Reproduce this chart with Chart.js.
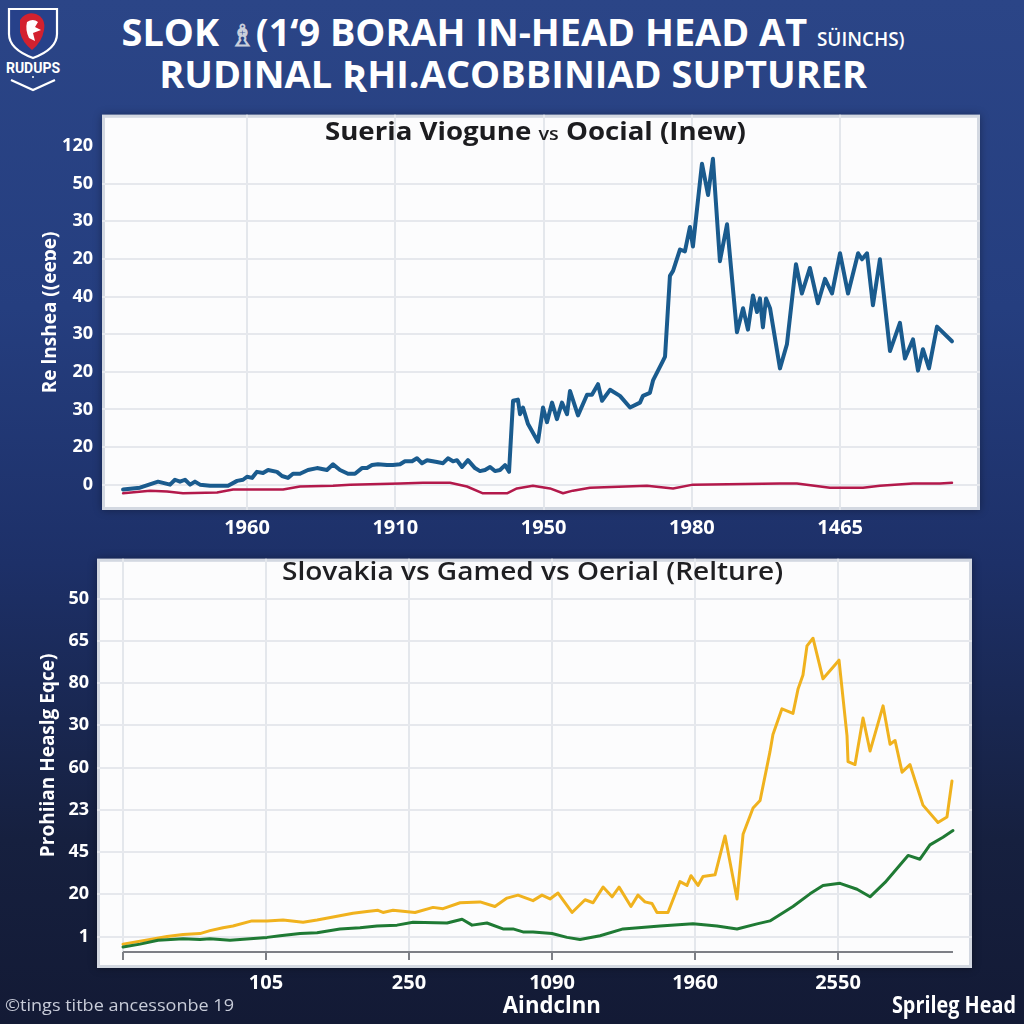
<!DOCTYPE html>
<html><head><meta charset="utf-8">
<script src="https://cdn.jsdelivr.net/npm/chart.js@4.4.1/dist/chart.umd.min.js"></script>
<style>
html,body{margin:0;padding:0;}
body{width:1024px;height:1024px;overflow:hidden;position:relative;
background:linear-gradient(180deg,#2b4587 0%,#253e7f 30%,#1d3068 55%,#16203f 82%,#131a35 100%);
font-family:"Open Sans","Noto Sans",sans-serif;}
.abs{position:absolute;}
.line{left:1px;width:1024px;text-align:center;white-space:nowrap;}
span.f{display:inline-block;transform-origin:center center;white-space:nowrap;}
#t1{top:8px;height:46px;line-height:46px;color:#fff;font-weight:700;font-size:38px;}
#t2{top:50px;height:46px;line-height:46px;color:#fff;font-weight:700;font-size:38px;}
#t1 .sm{font-size:19px;font-weight:600;}
#t1 .fig{color:#c9cfdc;font-size:30px;}
#ct1{left:23px;top:114px;color:#1c1c1f;font-weight:700;font-size:25px;line-height:32px;}
#ct1 .sm{font-size:18px;font-weight:600;}
#ct2{left:21px;top:554px;color:#1f1f22;font-weight:600;font-size:25px;line-height:32px;}
.wrap{position:absolute;left:0;width:1024px;}
#xt{left:453px;width:198px;top:989px;color:#fff;font-weight:700;font-size:23px;line-height:30px;text-align:center;}
#sh{left:854px;width:200px;top:989px;color:#fff;font-weight:700;font-size:23px;line-height:30px;text-align:center;}
#sh span.f{transform-origin:center center;}
#ft{left:5px;top:994px;color:#c8ccd9;font-size:16px;line-height:22px;white-space:nowrap;}
#ft span.f{transform-origin:left center;}
</style></head>
<body>
<svg class="abs" style="left:0;top:0" width="70" height="100" viewBox="0 0 70 100">
  <path d="M9,9 H57 V34 Q57,49 33,58 Q9,49 9,34 Z" fill="#27418a" stroke="#ffffff" stroke-width="2.2"/>
  <path d="M20,20 Q26,11 36,14 Q46,18 44,30 Q42,42 32,50 Q22,42 20,32 Z" fill="#d3212f"/>
  <path d="M27,22 Q33,18 38,22 L35,27 L41,30 L33,33 L35,41 L29,38 Q25,30 27,22 Z" fill="#ffffff"/>
  <text x="33" y="73" text-anchor="middle" fill="#ffffff" font-family="Liberation Sans Narrow, Roboto, sans-serif" font-weight="700" font-size="14">RUDUPS</text>
  <circle cx="33" cy="77" r="1" fill="#fff"/>
  <polyline points="11,80 33,90 55,80" fill="none" stroke="#ffffff" stroke-width="2.2"/>
</svg>
<div id="t1" class="abs line"><span class="f" id="t1s">SLOK <span class="fig">♗</span>(1‘9 BORAH IN-HEAD HEAD AT <span class="sm">SÜINCHS)</span></span></div>
<div id="t2" class="abs line"><span class="f" id="t2s">RUDINAL ƦHI.ACOBBINIAD SUPTURER</span></div>

<div class="wrap" style="top:95px;height:450px;"><canvas id="c1" width="1024" height="450"></canvas></div>
<div class="wrap" style="top:540px;height:484px;"><canvas id="c2" width="1024" height="484"></canvas></div>

<div id="ct1" class="abs line"><span class="f" id="ct1s">Sueria Viogune <span class="sm">vs</span> Oocial (Inew)</span></div>
<div id="ct2" class="abs line"><span class="f" id="ct2s">Slovakia vs Gamed vs Oerial (Relture)</span></div>
<div id="xt" class="abs"><span class="f" id="xts">Aindclnn</span></div>
<div id="sh" class="abs"><span class="f" id="shs">Sprileg Head</span></div>
<div id="ft" class="abs"><span class="f" id="fts">©tings titbe ancessonbe 19</span></div>

<script>
// ---------- Top chart data ----------
const topXTicks = [10, 20, 30, 40, 50];
const topXLabels = ['1960', '1910', '1950', '1980', '1465'];
const topYTicks = [0, 10, 20, 30, 40, 50, 60, 70, 80, 90];
const topYLabels = ['0', '20', '30', '20', '30', '40', '20', '30', '50', '120'];

const blueX = [1.64,2.78,4.00,4.81,5.14,5.48,5.82,6.16,6.49,6.83,
7.51,8.72,9.33,9.73,10.0,10.34,10.67,11.08,11.42,12.02,
12.36,12.76,13.10,13.57,14.11,14.72,15.39,15.80,16.27,16.81,
17.28,17.75,18.09,18.43,18.83,19.44,19.84,20.32,20.65,21.13,
21.46,21.80,22.14,22.81,23.22,23.55,23.89,24.16,24.50,24.90,
25.37,25.71,26.05,26.39,26.72,27.06,27.40,27.67,27.94,28.27,
28.41,28.61,28.95,29.62,29.96,30.23,30.57,30.90,31.24,31.58,
31.78,32.32,32.93,33.26,33.67,33.94,34.48,35.15,35.83,36.50,
36.70,37.17,37.38,38.05,38.19,38.52,38.73,39.20,39.53,39.87,
40.07,40.68,41.09,41.42,41.89,42.37,43.04,43.45,43.78,44.12,
44.39,44.59,44.79,45.00,45.27,45.94,46.41,47.02,47.42,47.96,
48.50,48.98,49.45,49.99,50.53,51.21,51.47,51.81,52.21,52.68,
53.36,54.03,54.37,54.91,55.25,55.58,55.99,56.53,57.54];
const blueY = [-1.3,-0.8,0.8,0,1.3,0.8,1.3,0,0.8,0,
-0.3,-0.3,1.0,1.3,2.1,1.8,3.4,3.1,3.9,3.4,
2.3,1.8,2.9,2.9,3.9,4.4,3.9,5.4,3.9,2.9,
2.9,4.4,4.4,5.2,5.4,5.2,5.2,5.4,6.2,6.2,
7.0,5.7,6.5,6.0,5.7,7.0,6.2,6.5,4.7,6.5,
4.4,3.6,3.9,4.7,3.6,3.9,5.2,3.4,22.3,22.6,
18.7,20.5,16.1,11.4,20.5,16.6,21.8,17.4,21.8,18.7,
24.9,18.4,23.9,23.9,26.7,22.3,25.2,23.6,20.5,21.8,
23.6,24.4,27.7,32.9,34.0,55.5,56.8,62.5,62.0,68.5,
63.3,85.3,77.0,86.6,59.4,69.2,40.5,46.9,41.2,50.3,
45.9,49.5,41.8,49.5,46.9,30.9,37.3,58.6,50.8,57.6,
48.2,54.7,50.8,61.5,50.8,61.5,59.9,61.5,47.7,59.9,
35.5,43.0,33.5,38.6,30.3,36.0,30.9,42.0,38.1];
const redX = [1.64,3.46,4.61,5.68,7.98,9.06,12.43,13.57,15.80,16.95,
20.32,21.87,23.69,24.83,25.91,27.53,28.20,29.28,30.43,31.31,
31.98,33.13,36.97,38.73,40.07,45.94,47.08,49.31,51.54,52.68,
54.91,56.73,57.54];
const redY = [-2.3,-1.6,-1.8,-2.3,-2.1,-1.3,-1.3,-0.5,-0.3,0,
0.3,0.5,0.5,-0.5,-2.3,-2.3,-1.0,-0.3,-1.0,-2.3,
-1.6,-0.8,-0.3,-1.0,0,0.3,0.3,-0.8,-0.8,-0.3,
0.3,0.3,0.5];

// ---------- Bottom chart data ----------
const botXTicks = [0, 10, 20, 30, 40, 50];
const botXLabels = ['', '105', '250', '1090', '1960', '2550'];
const botYTicks = [0, 10, 20, 30, 40, 50, 60, 70, 80];
const botYLabels = ['1', '20', '45', '23', '60', '30', '80', '65', '50'];

const yellowX = [0.00,1.89,3.08,4.20,5.38,6.08,6.99,7.69,9.02,10.07,
11.19,12.59,13.57,14.69,16.08,17.06,17.83,18.18,18.88,20.42,
21.68,22.38,23.57,24.97,26.01,26.85,27.62,28.67,29.30,29.86,
30.42,31.40,32.31,32.87,33.57,34.20,34.69,35.52,36.01,36.50,
36.99,37.34,38.11,38.95,39.44,39.72,40.21,40.56,41.40,42.10,
42.94,43.36,44.06,44.55,45.24,45.45,46.08,46.85,47.20,47.55,
47.83,48.25,48.95,50.07,50.63,50.70,51.19,51.75,52.24,53.15,
53.64,53.99,54.48,55.03,55.94,56.99,57.62,57.97];
const yellowY = [-1.8,-0.7,0,0.5,0.7,1.4,2.1,2.5,3.7,3.7,
3.9,3.4,3.9,4.6,5.5,5.9,6.2,5.7,6.2,5.7,
6.9,6.6,8.0,8.2,7.1,9.1,9.8,8.5,9.8,8.9,
10.3,5.7,8.7,8.0,11.7,9.4,11.7,7.1,9.8,8.2,
7.8,5.7,5.7,13.0,12.1,14.4,12.1,14.2,14.6,23.8,
8.9,24.2,30.4,32.2,43.7,47.8,53.9,52.8,58.5,61.9,
68.8,70.6,61.0,65.4,47.5,41.4,40.7,51.7,43.9,54.6,
45.5,46.4,38.9,40.7,31.1,27.0,28.3,36.8];
const greenX = [0.00,1.19,2.45,4.20,5.38,6.08,7.48,8.18,10.07,10.98,
12.38,13.57,15.17,16.57,17.76,19.16,20.28,22.66,23.71,24.41,
25.45,26.57,27.27,27.97,28.67,30.00,31.05,31.96,33.36,34.97,
37.55,39.86,41.54,42.94,44.34,45.24,46.85,48.04,48.95,50.14,
51.33,52.24,53.29,54.90,55.73,56.43,57.34,58.04];
const greenY = [-2.5,-1.8,-0.9,-0.5,-0.7,-0.5,-0.9,-0.7,-0.2,0.2,
0.7,0.9,1.8,2.1,2.5,2.7,3.4,3.2,4.1,2.7,
3.2,1.8,1.8,1.1,1.1,0.7,-0.2,-0.7,0.2,1.8,
2.5,3.0,2.5,1.8,3.0,3.7,7.1,10.1,12.1,12.6,
11.2,9.4,12.8,19.2,18.3,21.7,23.5,25.1];

// ---------- helpers ----------
const pts = (xs, ys) => xs.map((x, i) => ({x: x, y: ys[i]}));
const setTicks = arr => s => { s.ticks = arr.map(v => ({value: v})); };
const labelOf = (vals, labels) => v => { const i = vals.indexOf(v); return i < 0 ? '' : labels[i]; };

const panelPlugin = {
  id: 'panel',
  beforeDraw(chart, args, o) {
    const {ctx, chartArea: a} = chart;
    const x = a.left - (o.l || 0), y = a.top - (o.t || 0);
    const w = a.right - a.left + (o.l || 0) + (o.r || 0);
    const h = a.bottom - a.top + (o.t || 0) + (o.b || 0);
    ctx.save();
    ctx.shadowColor = 'rgba(0,0,0,0.35)'; ctx.shadowBlur = 8;
    ctx.fillStyle = '#fcfcfd'; ctx.fillRect(x, y, w, h);
    ctx.shadowColor = 'transparent'; ctx.shadowBlur = 0;
    ctx.strokeStyle = '#d3d8e1'; ctx.lineWidth = 3;
    ctx.strokeRect(x + 1.5, y + 1.5, w - 3, h - 3);
    ctx.restore();
  }
};
const axisLinePlugin = {
  id: 'axisLine',
  beforeDatasetsDraw(chart, args, o) {
    if (!o || !o.show) return;
    const {ctx, chartArea: a, scales} = chart;
    const xs = scales.x;
    ctx.save();
    ctx.strokeStyle = o.color; ctx.lineWidth = 2;
    ctx.beginPath();
    ctx.moveTo(xs.getPixelForValue(o.from), a.bottom);
    ctx.lineTo(xs.getPixelForValue(o.to), a.bottom);
    ctx.stroke();
    ctx.restore();
  }
};

Chart.defaults.font.family = '"Open Sans","Noto Sans",sans-serif';
Chart.defaults.color = '#ffffff';
const lineDs = (label, data, color, w) => ({
  label: label, data: data, borderColor: color, backgroundColor: color,
  borderWidth: w, pointRadius: 0, tension: 0, fill: false,
  borderJoinStyle: 'round', borderCapStyle: 'round'
});

new Chart(document.getElementById('c1'), {
  type: 'line',
  data: { datasets: [
    lineDs('Sueria', pts(redX, redY), '#b3194b', 2.5),
    lineDs('Viogune', pts(blueX, blueY), '#1a5b8e', 4)
  ]},
  options: {
    responsive: false, animation: false, devicePixelRatio: 1,
    layout: { padding: { left: 39, right: 44, top: 10, bottom: 0 } },
    plugins: { legend: { display: false }, tooltip: { enabled: false },
      panel: { l: 0, r: 0, t: 0, b: 0 }, axisLine: { show: false } },
    scales: {
      x: { type: 'linear', min: 0.22, max: 59.43,
        afterBuildTicks: setTicks(topXTicks),
        afterFit: s => { s.height = 35; },
        border: { display: false },
        grid: { color: '#e4e7ec', lineWidth: 2, drawTicks: false },
        ticks: { callback: labelOf(topXTicks, topXLabels), color: '#ffffff',
          font: { size: 20, weight: '700' }, padding: 6, maxRotation: 0, autoSkip: false }
      },
      y: { type: 'linear', min: -6.74, max: 98.3,
        afterBuildTicks: setTicks(topYTicks),
        afterFit: s => { s.width = 63; },
        border: { display: false },
        grid: { color: c => (c.tick && c.tick.value === 90) ? 'rgba(0,0,0,0)' : '#e6e8ed', lineWidth: 2, drawTicks: false },
        ticks: { callback: labelOf(topYTicks, topYLabels), color: '#ffffff',
          font: { size: 18, weight: '700' }, padding: 9, autoSkip: false },
        title: { display: true, text: 'Re lnshea ((eeɒe)', color: '#ffffff',
          font: { size: 19, weight: '700' }, padding: { top: 0, bottom: 0 } }
      }
    }
  },
  plugins: [panelPlugin, axisLinePlugin]
});

new Chart(document.getElementById('c2'), {
  type: 'line',
  data: { datasets: [
    lineDs('Gamed', pts(greenX, greenY), '#1f7a34', 3),
    lineDs('Slovakia', pts(yellowX, yellowY), '#f0b21e', 3)
  ]},
  options: {
    responsive: false, animation: false, devicePixelRatio: 1,
    layout: { padding: { left: 37, right: 52, top: 5, bottom: 0 } },
    plugins: { legend: { display: false }, tooltip: { enabled: false },
      panel: { l: 0, r: 0, t: 0, b: 16 },
      axisLine: { show: true, from: 0, to: 58.04, color: '#7d7f86' } },
    scales: {
      x: { type: 'linear', min: -1.82, max: 59.37,
        afterBuildTicks: setTicks(botXTicks),
        afterFit: s => { s.height = 72; },
        border: { display: false },
        grid: { color: '#e4e7ec', lineWidth: 2, drawTicks: true, tickLength: 8,
          tickColor: '#7d7f86', tickWidth: 2 },
        ticks: { callback: labelOf(botXTicks, botXLabels), color: '#ffffff',
          font: { size: 20, weight: '700' }, padding: 11, maxRotation: 0, autoSkip: false }
      },
      y: { type: 'linear', min: -3.66, max: 89.4,
        afterBuildTicks: setTicks(botYTicks),
        afterFit: s => { s.width = 60; },
        border: { display: false },
        grid: { color: '#e6e8ed', lineWidth: 2, drawTicks: false },
        ticks: { callback: labelOf(botYTicks, botYLabels), color: '#ffffff',
          font: { size: 18, weight: '700' }, padding: 8, autoSkip: false },
        title: { display: true, text: 'Prohiian Heaslg Eqce)', color: '#ffffff',
          font: { size: 19, weight: '700' }, padding: { top: 0, bottom: 0 } }
      }
    }
  },
  plugins: [panelPlugin, axisLinePlugin]
});

// fit headline widths to the reference
function fit(id, w) {
  const el = document.getElementById(id);
  const r = el.getBoundingClientRect().width;
  if (r > 0) el.style.transform = 'scaleX(' + (w / r) + ')';
}
fit('t1s', 783); fit('t2s', 708); fit('ct1s', 421); fit('ct2s', 501);
fit('xts', 98); fit('shs', 124); fit('fts', 229);
</script>
</body></html>
